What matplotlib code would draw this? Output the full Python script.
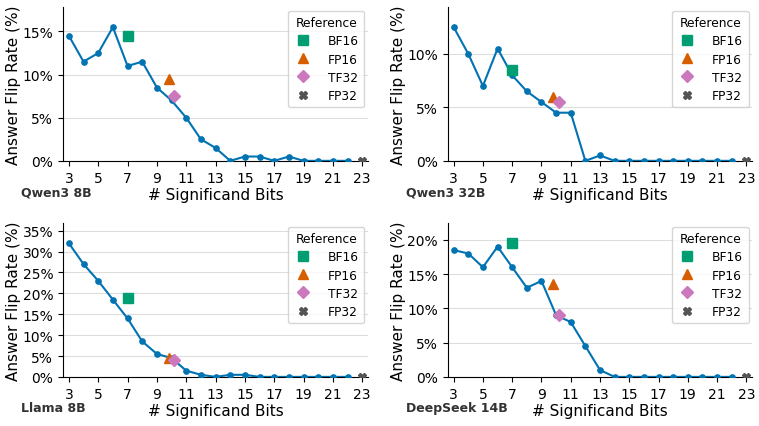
import matplotlib
matplotlib.use("Agg")
import matplotlib.pyplot as plt
from matplotlib.ticker import PercentFormatter, MultipleLocator

# bits on the x axis
bits = list(range(3, 23))

# flip rate (%) per model
qwen8 = [14.5, 11.5, 12.5, 15.5, 11.0, 11.5, 8.5, 7.0, 5.0, 2.5, 1.5, 0.0, 0.5, 0.5, 0.0, 0.5, 0.0, 0.0, 0.0, 0.0]
qwen32 = [12.5, 10.0, 7.0, 10.5, 8.0, 6.5, 5.5, 4.5, 4.5, 0.0, 0.5, 0.0, 0.0, 0.0, 0.0, 0.0, 0.0, 0.0, 0.0, 0.0]
llama8 = [32.0, 27.0, 23.0, 18.5, 14.0, 8.5, 5.5, 4.5, 1.5, 0.5, 0.0, 0.5, 0.5, 0.0, 0.0, 0.0, 0.0, 0.0, 0.0, 0.0]
deepseek14 = [18.5, 18.0, 16.0, 19.0, 16.0, 13.0, 14.0, 9.0, 8.0, 4.5, 1.0, 0.0, 0.0, 0.0, 0.0, 0.0, 0.0, 0.0, 0.0, 0.0]

# reference formats: name, bits, values per model
ref_names = ["BF16", "FP16", "TF32", "FP32"]
ref_bits = [7, 9.8, 10.2, 23]
ref_qwen8 = [14.5, 9.5, 7.5, 0.0]
ref_qwen32 = [8.5, 6.0, 5.5, 0.0]
ref_llama8 = [19.0, 4.5, 4.0, 0.0]
ref_deepseek14 = [19.5, 13.5, 9.0, 0.0]

models = ["Qwen3 8B", "Qwen3 32B", "Llama 8B", "DeepSeek 14B"]
series = [qwen8, qwen32, llama8, deepseek14]
refs = [ref_qwen8, ref_qwen32, ref_llama8, ref_deepseek14]

ref_colors = ["#029e73", "#d55e00", "#cc78bc", "#555555"]
ref_markers = ["s", "^", "D", "X"]
ref_sizes = [7.5, 6.5, 6, 6]

fig = plt.figure(figsize=(7.59, 4.27), dpi=100)
pos = [
    [0.083, 0.621, 0.402, 0.360],
    [0.590, 0.621, 0.401, 0.360],
    [0.083, 0.115, 0.402, 0.360],
    [0.590, 0.115, 0.401, 0.360],
]

for i in range(4):
    ax = fig.add_axes(pos[i])
    vals = series[i]
    rv = refs[i]
    ax.plot(bits, vals, color="#0173b2", marker="o", markersize=3.8, lw=1.5, zorder=3)
    for j in range(4):
        ax.plot(ref_bits[j], rv[j], linestyle="none", marker=ref_markers[j], color=ref_colors[j],
                markersize=ref_sizes[j], label=ref_names[j], zorder=4)
    top = max(max(vals), max(rv)) * 1.15
    ax.set_ylim(0, top)
    ax.set_xlim(2.6, 23.4)
    ax.set_xticks(range(3, 24, 2))
    ax.yaxis.set_major_locator(MultipleLocator(5))
    ax.yaxis.set_major_formatter(PercentFormatter(decimals=0))
    ax.grid(axis="y", color="#dddddd", lw=0.8)
    ax.set_axisbelow(True)
    for s in ["top", "right"]:
        ax.spines[s].set_visible(False)
    ax.tick_params(labelsize=10)
    ax.set_xlabel("# Significand Bits", fontsize=11, labelpad=2)
    ax.set_ylabel("Answer Flip Rate (%)", fontsize=11, labelpad=1)
    ax.text(-0.137, -0.2, models[i], transform=ax.transAxes, fontsize=9, fontweight="bold",
            ha="left", va="center", color="#333333")
    leg = ax.legend(title="Reference", loc="upper right", fontsize=8.8, title_fontsize=8.8,
                    handletextpad=1.3, handlelength=1.5, borderpad=0.45, labelspacing=0.42,
                    borderaxespad=0.3)

fig.savefig("out.png", dpi=100)
